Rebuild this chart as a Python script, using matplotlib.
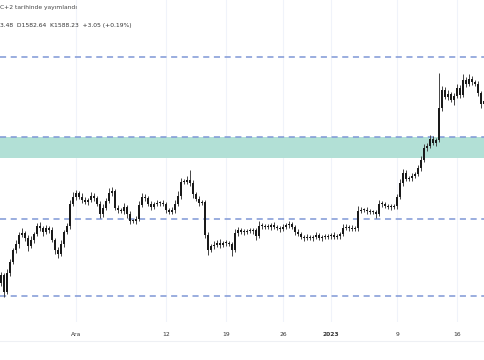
import numpy as np
import matplotlib.pyplot as plt

# closing prices, one candle per bar
closes = [
    1501.0, 1492.5, 1502.0, 1507.5, 1513.5, 1516.5, 1521.0, 1522.0, 1519.5, 1515.5,
    1518.5, 1521.5, 1525.5, 1524.5, 1522.5, 1524.5, 1523.5, 1518.5, 1513.5, 1511.5,
    1516.5, 1522.5, 1525.5, 1536.5, 1540.0, 1542.0, 1540.0, 1538.5, 1537.5, 1538.5,
    1540.5, 1539.5, 1536.5, 1531.5, 1534.5, 1538.0, 1542.0, 1543.0, 1534.5, 1533.5,
    1533.0, 1535.0, 1531.5, 1528.0, 1528.0, 1529.0, 1536.0, 1540.0, 1539.5, 1536.5,
    1535.0, 1536.5, 1537.0, 1537.0, 1536.5, 1533.5, 1532.5, 1533.5, 1536.5, 1540.5,
    1547.5, 1547.5, 1548.5, 1547.0, 1541.5, 1539.0, 1537.0, 1537.5, 1521.0, 1513.5,
    1515.5, 1516.0, 1517.0, 1516.0, 1517.0, 1517.0, 1516.5, 1513.5, 1522.0, 1523.5,
    1522.5, 1522.5, 1523.0, 1523.0, 1523.5, 1520.5, 1525.5, 1525.5, 1525.0, 1525.0,
    1526.0, 1525.0, 1524.5, 1524.0, 1525.0, 1526.0, 1526.5, 1525.0, 1522.5, 1521.5,
    1520.0, 1519.5, 1520.0, 1519.5, 1520.0, 1521.0, 1519.5, 1520.0, 1520.0, 1520.5,
    1521.0, 1520.0, 1520.5, 1521.5, 1524.5, 1525.0, 1524.5, 1524.0, 1524.5, 1533.0,
    1533.5, 1533.5, 1533.0, 1532.5, 1532.5, 1531.5, 1536.5, 1536.5, 1535.5, 1535.0,
    1535.0, 1535.5, 1540.0, 1547.0, 1552.0, 1549.0, 1549.5, 1550.5, 1551.5, 1554.5,
    1558.5, 1564.5, 1565.5, 1569.0, 1567.0, 1568.5, 1584.5, 1593.5, 1590.0, 1591.5,
    1588.5, 1590.5, 1594.5, 1591.0, 1598.5, 1596.5, 1599.0, 1597.5, 1596.5, 1592.0,
    1586.5, 1588.23,
]
first_open = 1497.0

# wick lengths above / below the body
wick_up = [
    1.5, 1.0, 2.0, 1.5, 1.0, 2.0, 1.5, 2.5, 1.0, 1.5, 2.0, 1.0, 1.5, 2.0, 1.0, 1.5,
    1.0, 1.5, 1.0, 1.5, 2.0, 1.0, 1.5, 2.0, 2.5, 1.5, 1.0, 2.0, 1.5, 1.0, 2.0, 1.5,
    1.0, 1.5, 2.0, 1.5, 2.5, 2.0, 1.0, 1.5, 1.0, 2.0, 1.0, 1.5, 1.0, 1.5, 2.0, 2.0,
    1.5, 1.0, 1.5, 1.0, 1.5, 1.0, 1.5, 1.0, 1.0, 1.5, 2.0, 2.5, 2.0, 1.5, 2.0, 5.0,
    1.5, 1.0, 1.5, 1.0, 1.0, 1.5, 1.0, 2.0, 1.5, 2.0, 1.0, 1.5, 1.0, 1.0, 2.0, 1.5,
    1.0, 1.5, 1.0, 1.5, 1.0, 1.0, 2.5, 1.5, 1.0, 1.5, 1.0, 1.5, 1.0, 1.0, 1.5, 1.0,
    1.5, 1.0, 1.0, 1.5, 1.0, 1.0, 1.5, 1.0, 1.0, 1.5, 1.0, 1.0, 1.5, 1.0, 1.0, 1.5,
    1.0, 1.0, 2.0, 1.5, 1.0, 1.5, 1.0, 2.5, 1.5, 1.0, 1.5, 1.0, 1.0, 1.0, 2.0, 1.5,
    1.0, 1.0, 1.5, 1.0, 1.5, 2.0, 2.0, 1.5, 1.0, 1.5, 1.0, 1.5, 2.0, 2.0, 1.5, 2.0,
    1.5, 1.0, 17.5, 2.0, 1.5, 2.0, 1.0, 1.5, 2.0, 1.5, 3.0, 1.5, 2.5, 1.5, 1.0, 1.5,
    1.0, 1.5,
]
wick_dn = [
    1.5, 2.5, 1.0, 1.5, 1.0, 1.5, 2.0, 1.0, 1.5, 2.5, 1.0, 1.5, 1.0, 1.5, 2.0, 1.0,
    1.5, 1.0, 2.0, 2.0, 1.0, 1.5, 1.0, 1.5, 1.0, 1.5, 1.0, 1.5, 1.0, 1.5, 1.0, 1.5,
    1.0, 2.0, 1.5, 1.0, 1.0, 1.5, 1.0, 1.5, 1.0, 1.5, 2.0, 1.5, 1.0, 1.5, 1.0, 1.0,
    1.5, 1.0, 1.5, 1.0, 1.0, 1.5, 1.0, 1.5, 1.0, 1.0, 1.5, 1.0, 1.5, 1.0, 1.0, 1.5,
    2.0, 1.0, 1.5, 1.0, 1.5, 2.5, 1.0, 1.5, 1.0, 1.5, 1.0, 1.5, 1.0, 3.0, 1.0, 1.5,
    1.0, 1.5, 1.0, 1.0, 1.5, 2.0, 1.0, 1.5, 1.0, 1.0, 1.5, 1.0, 1.0, 1.5, 1.0, 1.0,
    1.5, 1.0, 1.5, 1.0, 1.0, 1.5, 1.0, 1.0, 1.5, 1.0, 1.0, 1.5, 1.0, 1.0, 1.5, 1.0,
    1.0, 1.5, 1.0, 1.0, 1.5, 1.0, 1.0, 1.5, 1.0, 1.0, 1.5, 1.0, 1.0, 2.0, 1.0, 1.5,
    1.0, 1.0, 1.5, 1.0, 1.5, 1.0, 1.5, 1.0, 1.0, 1.5, 1.0, 1.0, 1.5, 1.0, 1.5, 1.0,
    1.0, 1.5, 1.0, 1.5, 1.0, 1.5, 1.0, 2.5, 1.0, 1.5, 1.0, 1.5, 1.0, 1.5, 1.0, 1.5,
    2.0, 1.0,
]

# horizontal levels and support/resistance zone
levels = [1610.0, 1570.0, 1529.0, 1490.5]
zone = (1559.5, 1570.0)

# time axis
tick_pos = [25, 55, 75, 94, 110, 132, 152]
tick_lbl = ["Ara", "12", "19", "26", "2023", "9", "16"]

header1 = "C+2 tarihinde yayımlandı"
header2 = "3.48  D1582.64  K1588.23  +3.05 (+0.19%)"

closes = np.array(closes)
opens = np.concatenate([[first_open], closes[:-1]])
highs = np.maximum(opens, closes) + np.array(wick_up)
lows = np.minimum(opens, closes) - np.array(wick_dn)
idx = np.arange(len(closes))

fig = plt.figure(figsize=(4.85, 3.6), dpi=100)
ax = fig.add_axes([0, 0.1056, 1, 0.8944])

ax.axhspan(zone[0], zone[1], color="#b2e0d6", lw=0, zorder=1)
for lv in levels:
    ax.axhline(lv, color="#7f97d6", lw=1.1, dashes=(4, 3), zorder=2)

for t in tick_pos:
    ax.axvline(t, color="#f0f3fa", lw=0.8, zorder=0)

ax.vlines(idx, lows, highs, color="#444444", lw=0.7, zorder=3)
body = np.abs(closes - opens)
body = np.maximum(body, 0.4)
ax.bar(idx, body, bottom=np.minimum(opens, closes), width=0.65,
       color="#1a1a1a", lw=0, zorder=4)

ax.set_xlim(-1 / 3, 161.33)
ax.set_ylim(1477.5, 1638.5)
ax.set_yticks([])
ax.set_xticks(tick_pos)
ax.set_xticklabels(tick_lbl, fontsize=4.3, color="#333333")
for lab in ax.get_xticklabels():
    if lab.get_text() == "2023":
        lab.set_fontweight("bold")
ax.tick_params(axis="x", length=0, pad=7)
for s in ax.spines.values():
    s.set_visible(False)

fig.add_artist(plt.Line2D([0, 1], [1 - 341 / 360] * 2, color="#eef0f4", lw=0.8))
fig.text(0.0, 1 - 8 / 360, header1, fontsize=4.3, color="#444444", va="center")
fig.text(0.0, 1 - 25 / 360, header2, fontsize=4.3, color="#333333", va="center")

fig.savefig("out.png", dpi=100)
